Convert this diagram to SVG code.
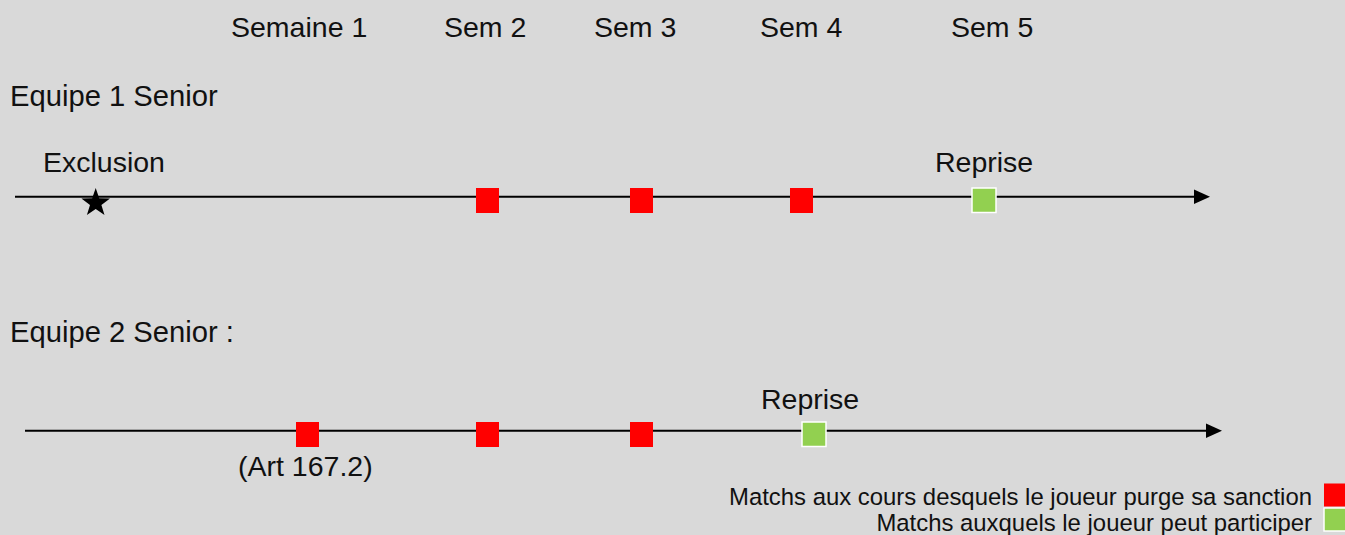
<svg xmlns="http://www.w3.org/2000/svg" width="1345" height="535" viewBox="0 0 1345 535">
<style>
text{font-family:"Liberation Sans",Arial,Helvetica,sans-serif;fill:#111;}
.t{font-size:28.5px;}
.t2{font-size:29.2px;}
.lg{font-size:23.9px;}
.red{fill:#ff0000;}
.grn{fill:#92d050;stroke:#ffffff;stroke-width:1.5;}
.ax{stroke:#000;stroke-width:2;fill:none;}
</style>
<rect x="0" y="0" width="1345" height="535" fill="#d9d9d9"/>
<g id="headers">
<text class="t" x="231" y="37">Semaine 1</text>
<text class="t" x="444" y="37">Sem 2</text>
<text class="t" x="594" y="37">Sem 3</text>
<text class="t" x="760" y="37">Sem 4</text>
<text class="t" x="951" y="37">Sem 5</text>
</g>
<g id="connectors">
<line class="ax" x1="15" y1="196.7" x2="1196" y2="196.7"/>
<polygon points="1194,189.5 1210,196.7 1194,204" fill="#000"/>
<line class="ax" x1="25" y1="430.7" x2="1208" y2="430.7"/>
<polygon points="1206,423.5 1222,430.7 1206,438" fill="#000"/>
</g>
<g id="row1">
<text class="t2" x="10" y="106">Equipe 1 Senior</text>
<text class="t" x="43" y="171.5">Exclusion</text>
<text class="t" x="935" y="171.5">Reprise</text>
<polygon id="star" fill="#000" points="95.7,188 99.2,198.2 110,198.4 101.4,204.9 104.5,215.1 95.7,209 86.9,215.1 90,204.9 81.4,198.4 92.2,198.2"/>
<rect id="r1a" class="red" x="476" y="188" width="23" height="25"/>
<rect id="r1b" class="red" x="630" y="188" width="23" height="25"/>
<rect id="r1c" class="red" x="790" y="188" width="23" height="25"/>
<rect id="g1" class="grn" x="972" y="188" width="24" height="24.5"/>
</g>
<g id="row2">
<text class="t2" x="10" y="341.5">Equipe 2 Senior :</text>
<text class="t" x="761" y="408.5">Reprise</text>
<text class="t" x="238" y="476">(Art 167.2)</text>
<rect id="r2a" class="red" x="296" y="422" width="23" height="25"/>
<rect id="r2b" class="red" x="476" y="422" width="23" height="25"/>
<rect id="r2c" class="red" x="630" y="422" width="23" height="25"/>
<rect id="g2" class="grn" x="802" y="422" width="24" height="24.5"/>
</g>
<g id="legend">
<text class="lg" x="1312" y="504.5" text-anchor="end">Matchs aux cours desquels le joueur purge sa sanction</text>
<text class="lg" x="1312" y="530.5" text-anchor="end">Matchs auxquels le joueur peut participer</text>
<rect class="red" x="1324" y="483.5" width="22" height="23"/>
<rect class="grn" x="1324" y="508" width="22" height="23"/>
</g>
</svg>
